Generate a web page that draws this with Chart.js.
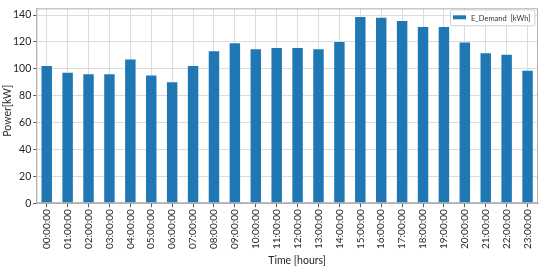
<!DOCTYPE html>
<html>
<head>
<meta charset="utf-8">
<script src="https://cdn.jsdelivr.net/npm/chart.js@4/dist/chart.umd.min.js"></script>
<style>
  html, body { margin: 0; padding: 0; background: #fff; }
  #wrap { width: 550px; height: 269px; }
</style>
</head>
<body>
<div id="wrap"><canvas id="demandCanvas"></canvas></div>
<script>
const hours = [
  "00:00:00", "01:00:00", "02:00:00", "03:00:00", "04:00:00", "05:00:00",
  "06:00:00", "07:00:00", "08:00:00", "09:00:00", "10:00:00", "11:00:00",
  "12:00:00", "13:00:00", "14:00:00", "15:00:00", "16:00:00", "17:00:00",
  "18:00:00", "19:00:00", "20:00:00", "21:00:00", "22:00:00", "23:00:00"
];
const demand = [
  102, 97, 96, 96, 107, 95, 90, 102, 113, 119, 114.5, 115.5,
  115.5, 114.5, 120, 138.5, 138, 135.5, 131, 131, 119.5, 111.5, 110.5, 98.5
];
const yTicks = [0, 20, 40, 60, 80, 100, 120, 140];
const seriesName = "E_Demand  [kWh]";
const xTitle = "Time [hours]";
const yTitle = "Power[kW]";

const FONT = "Lato";
const BAR_COLOR = "#1f77b4";
const GRID_COLOR = "#dcdcdc";
const FRAME_COLOR = "#b0b0b0";
const TEXT_COLOR = "#262626";

// box round the plot, the axis titles and a matplotlib-like legend
const framePlugin = {
  id: "frame",
  afterDraw(chart) {
    const ctx = chart.ctx;
    const a = chart.chartArea;
    ctx.save();
    ctx.strokeStyle = FRAME_COLOR;
    ctx.lineWidth = 1;
    ctx.strokeRect(a.left + 0.5, a.top + 0.5, a.right - a.left - 1, a.bottom - a.top - 1);

    // axis titles (the original sits a bit off the plot centre)
    ctx.fillStyle = TEXT_COLOR;
    ctx.font = `10.5px ${FONT}`;
    ctx.textAlign = "center";
    ctx.textBaseline = "middle";
    ctx.fillText(xTitle, (a.left + a.right) / 2 + 10, chart.height - 8);
    ctx.save();
    ctx.translate(8, (a.top + a.bottom) / 2 + 5);
    ctx.rotate(-Math.PI / 2);
    ctx.fillText(yTitle, 0, 0);
    ctx.restore();

    // legend
    const ds = chart.data.datasets[0];
    ctx.font = `7.5px ${FONT}`;
    ctx.textAlign = "left";
    const textW = ctx.measureText(ds.label).width;
    const w = 3 + 13 + 5 + textW + 4;
    const h = 16;
    const x = Math.round(a.right - 4 - w);
    const y = a.top + 1;
    ctx.fillStyle = "rgba(255,255,255,0.85)";
    ctx.strokeStyle = "#d0d0d0";
    ctx.beginPath();
    ctx.roundRect(x + 0.5, y + 0.5, w, h, 2);
    ctx.fill();
    ctx.stroke();
    ctx.fillStyle = ds.backgroundColor;
    ctx.fillRect(x + 3, y + 6, 13, 4);
    ctx.fillStyle = "#333";
    ctx.fillText(ds.label, x + 21, y + h / 2 + 1);
    ctx.restore();
  }
};

function plotDemand() {
  const data = {
    labels: hours,
    datasets: [{
      label: seriesName,
      data: demand,
      backgroundColor: BAR_COLOR,
      borderWidth: 0,
      categoryPercentage: 1,
      barPercentage: 0.5
    }]
  };
  const options = {
    responsive: true,
    maintainAspectRatio: false,
    animation: false,
    layout: { padding: { left: 11, right: 12, top: 6, bottom: 18 } },
    plugins: {
      legend: { display: false },
      tooltip: { enabled: false }
    },
    scales: {
      x: {
        offset: true,
        grid: { offset: false, color: GRID_COLOR, tickLength: 4, tickColor: "#555" },
        border: { color: FRAME_COLOR },
        ticks: {
          minRotation: 90,
          maxRotation: 90,
          autoSkip: false,
          color: TEXT_COLOR,
          padding: 2,
          font: { family: FONT, size: 10 }
        }
      },
      y: {
        min: 0,
        max: 145,
        afterBuildTicks(scale) {
          scale.ticks = yTicks.map(v => ({ value: v }));
        },
        grid: { color: GRID_COLOR, tickLength: 3, tickColor: "#555" },
        border: { color: FRAME_COLOR },
        ticks: {
          color: TEXT_COLOR,
          padding: 2,
          font: { family: FONT, size: 10.5 }
        }
      }
    }
  };
  new Chart(document.getElementById("demandCanvas"), {
    type: "bar",
    data: data,
    options: options,
    plugins: [framePlugin]
  });
}

plotDemand();
</script>
</body>
</html>
